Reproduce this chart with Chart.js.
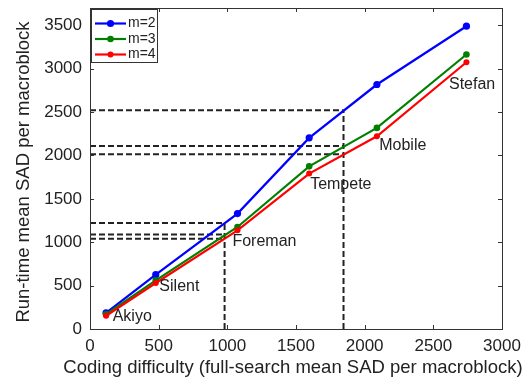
<!DOCTYPE html>
<html>
<head>
<meta charset="UTF-8">
<script src="https://cdn.jsdelivr.net/npm/chart.js"></script>
<style>
  body { margin: 0; background: #fff; }
  #wrap { width: 531px; height: 379px; }
</style>
</head>
<body>
<div id="wrap"><canvas id="chart" width="531" height="379"></canvas></div>
<script>
// coding difficulty per sequence (x) and run-time SAD for each m
const sequences = ['Akiyo', 'Silent', 'Foreman', 'Tempete', 'Mobile', 'Stefan'];
const difficulty = [117, 479, 1074, 1596, 2089, 2741];
const sadM2 = [185, 626, 1330, 2203, 2818, 3490];
const sadM3 = [170, 560, 1176, 1875, 2318, 3164];
const sadM4 = [153, 530, 1137, 1791, 2221, 3075];

// where the sequence names sit (data coords)
const labelX = [165, 505, 1037, 1603, 2106, 2614];
const labelY = [138, 485, 1004, 1665, 2115, 2819];

// dashed guide lines: vertical at x, horizontals at the levels
const guideX = [980, 1846];
const guideLevels = [[1223, 1088, 1040], [2520, 2110, 2015]];

const xTicks = [0, 500, 1000, 1500, 2000, 2500, 3000];
const yTicks = [0, 500, 1000, 1500, 2000, 2500, 3000, 3500];

const xTitle = 'Coding difficulty (full-search mean SAD per macroblock)';
const yTitle = 'Run-time mean SAD per macroblock';

const FONT = '"Liberation Sans", Arial, sans-serif';

const series = [
    {label: 'm=2', values: sadM2, color: '#0000ff', r: 3.6, order: 2},
    {label: 'm=3', values: sadM3, color: '#008000', r: 3.3, order: 1},
    {label: 'm=4', values: sadM4, color: '#ff0000', r: 3.0, order: 0}
];

const datasets = series.map(s => ({
    label: s.label,
    data: difficulty.map((d, i) => ({x: d, y: s.values[i]})),
    borderColor: s.color,
    backgroundColor: s.color,
    borderWidth: 2.2,
    pointRadius: s.r,
    pointBorderWidth: 0,
    order: s.order
}));

function guide(points) {
    return {
        data: points,
        borderColor: '#222',
        borderWidth: 2,
        borderDash: [6, 3],
        pointRadius: 0,
        order: 5
    };
}

guideX.forEach((gx, g) => {
    const levels = guideLevels[g];
    datasets.push(guide([{x: gx, y: 0}, {x: gx, y: Math.max(...levels)}]));
    levels.forEach(lv => datasets.push(guide([{x: 0, y: lv}, {x: gx, y: lv}])));
});

function noPadding(s) {
    s.paddingTop = 0; s.paddingBottom = 0;
    s.paddingLeft = 0; s.paddingRight = 0;
}

const frame = {
    id: 'frame',
    afterDatasetsDraw(chart) {
        const {ctx, chartArea: a, scales: {x, y}} = chart;
        ctx.save();

        // sequence names
        ctx.font = '16px ' + FONT;
        ctx.fillStyle = '#222';
        ctx.textBaseline = 'middle';
        ctx.textAlign = 'left';
        sequences.forEach((s, i) => {
            ctx.fillText(s, x.getPixelForValue(labelX[i]), y.getPixelForValue(labelY[i]));
        });

        // box and inward ticks
        ctx.strokeStyle = '#333';
        ctx.lineWidth = 1;
        ctx.strokeRect(a.left + 0.5, a.top + 0.5, a.right - a.left, a.bottom - a.top);
        ctx.beginPath();
        xTicks.forEach(v => {
            const px = Math.round(x.getPixelForValue(v)) + 0.5;
            ctx.moveTo(px, a.bottom); ctx.lineTo(px, a.bottom - 4);
            ctx.moveTo(px, a.top); ctx.lineTo(px, a.top + 4);
        });
        yTicks.forEach(v => {
            const py = Math.round(y.getPixelForValue(v)) + 0.5;
            ctx.moveTo(a.left, py); ctx.lineTo(a.left + 4, py);
            ctx.moveTo(a.right, py); ctx.lineTo(a.right - 4, py);
        });
        ctx.stroke();

        // axis titles
        ctx.font = '18.5px ' + FONT;
        ctx.fillStyle = '#222';
        ctx.textAlign = 'center';
        ctx.textBaseline = 'alphabetic';
        ctx.fillText(xTitle, 293, 373);
        ctx.save();
        ctx.translate(29, 172);
        ctx.rotate(-Math.PI / 2);
        ctx.fillText(yTitle, 0, 0);
        ctx.restore();

        // legend
        const lx = a.left + 1, ly = a.top + 1, lw = 66, lh = 53;
        ctx.fillStyle = '#fff';
        ctx.fillRect(lx, ly, lw, lh);
        ctx.strokeStyle = '#333';
        ctx.lineWidth = 1;
        ctx.strokeRect(lx + 0.5, ly + 0.5, lw, lh);
        ctx.font = '14px ' + FONT;
        ctx.textAlign = 'left';
        ctx.textBaseline = 'middle';
        series.forEach((s, i) => {
            const ry = ly + 14.5 + i * 15.5;
            ctx.strokeStyle = s.color;
            ctx.lineWidth = 2.2;
            ctx.beginPath();
            ctx.moveTo(lx + 4, ry); ctx.lineTo(lx + 35, ry);
            ctx.stroke();
            ctx.fillStyle = s.color;
            ctx.beginPath();
            ctx.arc(lx + 19.5, ry, s.r, 0, Math.PI * 2);
            ctx.fill();
            ctx.fillStyle = '#222';
            ctx.fillText(s.label, lx + 37, ry);
        });
        ctx.restore();
    }
};

new Chart(document.getElementById('chart'), {
    type: 'line',
    data: {datasets: datasets},
    options: {
        responsive: false,
        animation: false,
        layout: {padding: {top: 8, right: 29, left: 0, bottom: 0}},
        plugins: {legend: {display: false}, tooltip: {enabled: false}},
        scales: {
            x: {
                type: 'linear',
                min: 0, max: 3000,
                grid: {display: false, drawTicks: false},
                border: {display: false},
                afterBuildTicks: s => { s.ticks = xTicks.map(v => ({value: v})); },
                afterFit: s => { s.height = 50; noPadding(s); },
                ticks: {padding: 7, color: '#222', font: {size: 17, family: FONT}, callback: v => String(v)}
            },
            y: {
                min: 0, max: 3700,
                grid: {display: false, drawTicks: false},
                border: {display: false},
                afterBuildTicks: s => { s.ticks = yTicks.map(v => ({value: v})); },
                afterFit: s => { s.width = 90; noPadding(s); },
                ticks: {padding: 8, color: '#222', font: {size: 17, family: FONT}, callback: v => String(v)}
            }
        }
    },
    plugins: [frame]
});
</script>
</body>
</html>
